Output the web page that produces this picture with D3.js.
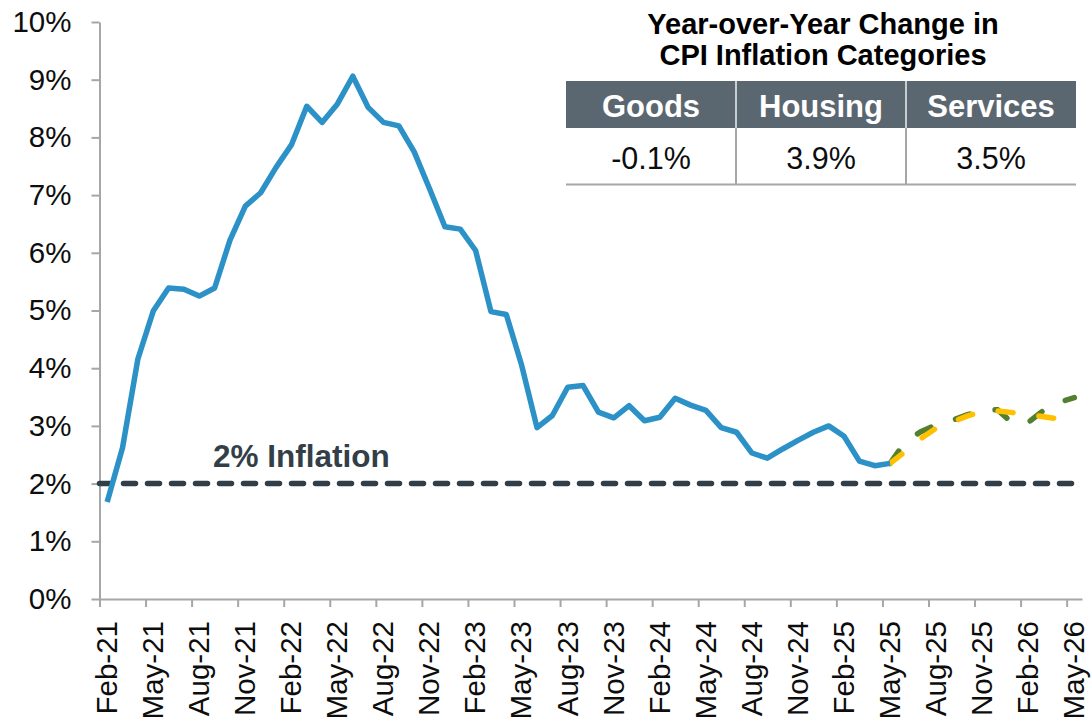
<!DOCTYPE html>
<html>
<head>
<meta charset="utf-8">
<script src="https://cdn.jsdelivr.net/npm/d3@7"></script>
<style>
  body { margin: 0; background: #fff; }
  svg { display: block; font-family: "Liberation Sans", Arial, sans-serif; }
</style>
</head>
<body>
<div id="graph"></div>
<script>
// x tick labels, every 3rd month from Feb-21
var tickLabels = ["Feb-21","May-21","Aug-21","Nov-21","Feb-22","May-22","Aug-22","Nov-22",
  "Feb-23","May-23","Aug-23","Nov-23","Feb-24","May-24","Aug-24","Nov-24",
  "Feb-25","May-25","Aug-25","Nov-25","Feb-26","May-26"];

// CPI YoY %, monthly Feb-21 .. May-25
var cpiActual = [1.68, 2.62, 4.16, 4.99, 5.39, 5.37, 5.25, 5.39, 6.22, 6.81, 7.04,
  7.48, 7.87, 8.54, 8.26, 8.58, 9.06, 8.52, 8.26, 8.20, 7.75, 7.11, 6.45,
  6.41, 6.04, 4.98, 4.93, 4.05, 2.97, 3.18, 3.67, 3.70, 3.24, 3.14, 3.35,
  3.09, 3.15, 3.48, 3.36, 3.27, 2.97, 2.89, 2.53, 2.44, 2.60, 2.75, 2.89,
  3.00, 2.82, 2.39, 2.31, 2.35];

// projections, monthly May-25 .. May-26
var forecastGreen = [2.35, 2.73, 2.90, 3.02, 3.09, 3.19, 3.27, 3.28, 3.04, 3.06, 3.27, 3.41, 3.49];
var forecastGold  = [2.35, 2.56, 2.78, 2.96, 3.06, 3.17, 3.25, 3.26, 3.23, 3.20, 3.16, 3.12, 3.08];

var tableHeads  = ["Goods", "Housing", "Services"];
var tableValues = ["-0.1%", "3.9%", "3.5%"];
var yTicks = d3.range(0, 11);
var targetRate = 2;

var margin = { top: 22, right: 9, bottom: 124, left: 99.5 },
    width  = 1091 - margin.left - margin.right,
    height = 723  - margin.top  - margin.bottom;

var root = d3.select("#graph")
  .append("svg")
    .attr("width", 1091)
    .attr("height", 723);

var svg = root.append("g")
    .attr("transform", `translate(${margin.left}, ${margin.top})`);

var nMonths = (tickLabels.length - 1) * 3 + 1;
var x = d3.scaleLinear().domain([0, nMonths]).range([0, width]);
var y = d3.scaleLinear().domain([0, 10]).range([height, 0]);

var axisColor = "#A6A6A6";

// Y axis
var yAxisG = svg.append("g")
  .call(d3.axisLeft(y).tickValues(yTicks).tickSize(8).tickSizeOuter(0)
    .tickPadding(20).tickFormat(d => d + "%"));
yAxisG.select(".domain").attr("stroke", axisColor).attr("stroke-width", 2);
yAxisG.selectAll(".tick line").attr("stroke", axisColor).attr("stroke-width", 2);
yAxisG.selectAll("text")
  .style("font-size", "29.5px")
  .attr("fill", "#0d0d0d");

// X axis: tick marks on month boundaries
var xAxisG = svg.append("g")
  .attr("transform", `translate(0, ${height})`)
  .call(d3.axisBottom(x).tickValues(d3.range(0, nMonths, 3)).tickSize(8)
    .tickSizeOuter(0).tickFormat(""));
xAxisG.select(".domain").attr("stroke", axisColor).attr("stroke-width", 2);
xAxisG.selectAll(".tick line").attr("stroke", axisColor).attr("stroke-width", 2);

// X labels centred on the month
var xLabelG = svg.append("g")
  .attr("transform", `translate(0, ${height})`)
  .call(d3.axisBottom(x).tickValues(tickLabels.map((d, i) => i * 3 + 0.5))
    .tickSize(0).tickFormat((d, i) => tickLabels[i]));
xLabelG.select(".domain").remove();
xLabelG.selectAll("text")
  .attr("transform", "rotate(-90)")
  .attr("x", -22)
  .attr("y", -1)
  .attr("dy", "0.35em")
  .style("text-anchor", "end")
  .style("font-size", "29.5px")
  .attr("fill", "#0d0d0d");

// 2% target line
svg.append("line")
  .attr("x1", x(0)).attr("x2", x(nMonths))
  .attr("y1", y(targetRate)).attr("y2", y(targetRate))
  .attr("stroke", "#333F48")
  .attr("stroke-width", 5.5)
  .attr("stroke-dasharray", "12,12")
  .attr("stroke-linecap", "round");

svg.append("text")
  .attr("x", 213 - margin.left)
  .attr("y", 467 - margin.top)
  .style("font-size", "31.5px")
  .style("font-weight", "bold")
  .attr("fill", "#333F48")
  .text("2% Inflation");

// lines
var start = cpiActual.length - 1;
var lineActual = d3.line().x((d, i) => x(i + 0.5)).y(d => y(d));
var lineFcst   = d3.line().x((d, i) => x(start + i + 0.5)).y(d => y(d));

svg.append("path")
  .attr("d", lineFcst(forecastGreen))
  .attr("fill", "none")
  .attr("stroke", "#53802F")
  .attr("stroke-width", 5.5)
  .attr("stroke-linecap", "round")
  .attr("stroke-dasharray", "15,26");

svg.append("path")
  .attr("d", lineFcst(forecastGold))
  .attr("fill", "none")
  .attr("stroke", "#FFC000")
  .attr("stroke-width", 5.5)
  .attr("stroke-linecap", "round")
  .attr("stroke-dasharray", "15,26");

svg.append("path")
  .attr("d", lineActual(cpiActual))
  .attr("fill", "none")
  .attr("stroke", "#2B91C6")
  .attr("stroke-width", 5.5)
  .attr("stroke-linejoin", "round");

// title + table, top right
var tbl = root.append("g");
var col = d3.scaleBand().domain(tableHeads).range([566, 1076]);

tbl.selectAll(".title")
  .data(["Year-over-Year Change in", "CPI Inflation Categories"])
  .enter().append("text")
    .attr("x", 823)
    .attr("y", (d, i) => 34 + i * 31)
    .attr("text-anchor", "middle")
    .style("font-size", "29px")
    .style("font-weight", "bold")
    .attr("fill", "#000")
    .text(d => d);

tbl.append("rect")
  .attr("x", 566).attr("y", 81)
  .attr("width", 510).attr("height", 47)
  .attr("fill", "#5B6770");

tbl.selectAll(".hsep")
  .data(tableHeads.slice(1))
  .enter().append("line")
    .attr("x1", d => col(d)).attr("x2", d => col(d))
    .attr("y1", 81).attr("y2", 128)
    .attr("stroke", "#C9CDD0").attr("stroke-width", 2);

tbl.selectAll(".vsep")
  .data(tableHeads.slice(1))
  .enter().append("line")
    .attr("x1", d => col(d)).attr("x2", d => col(d))
    .attr("y1", 128).attr("y2", 184)
    .attr("stroke", axisColor).attr("stroke-width", 2);

tbl.append("line")
  .attr("x1", 566).attr("x2", 1076)
  .attr("y1", 184.5).attr("y2", 184.5)
  .attr("stroke", axisColor).attr("stroke-width", 2);

tbl.selectAll(".head")
  .data(tableHeads)
  .enter().append("text")
    .attr("x", d => col(d) + col.bandwidth() / 2)
    .attr("y", 116.5)
    .attr("text-anchor", "middle")
    .style("font-size", "31px")
    .style("font-weight", "bold")
    .attr("fill", "#fff")
    .text(d => d);

tbl.selectAll(".val")
  .data(tableValues)
  .enter().append("text")
    .attr("x", (d, i) => col(tableHeads[i]) + col.bandwidth() / 2)
    .attr("y", 169)
    .attr("text-anchor", "middle")
    .style("font-size", "30.5px")
    .attr("fill", "#0d0d0d")
    .text(d => d);
</script>
</body>
</html>
